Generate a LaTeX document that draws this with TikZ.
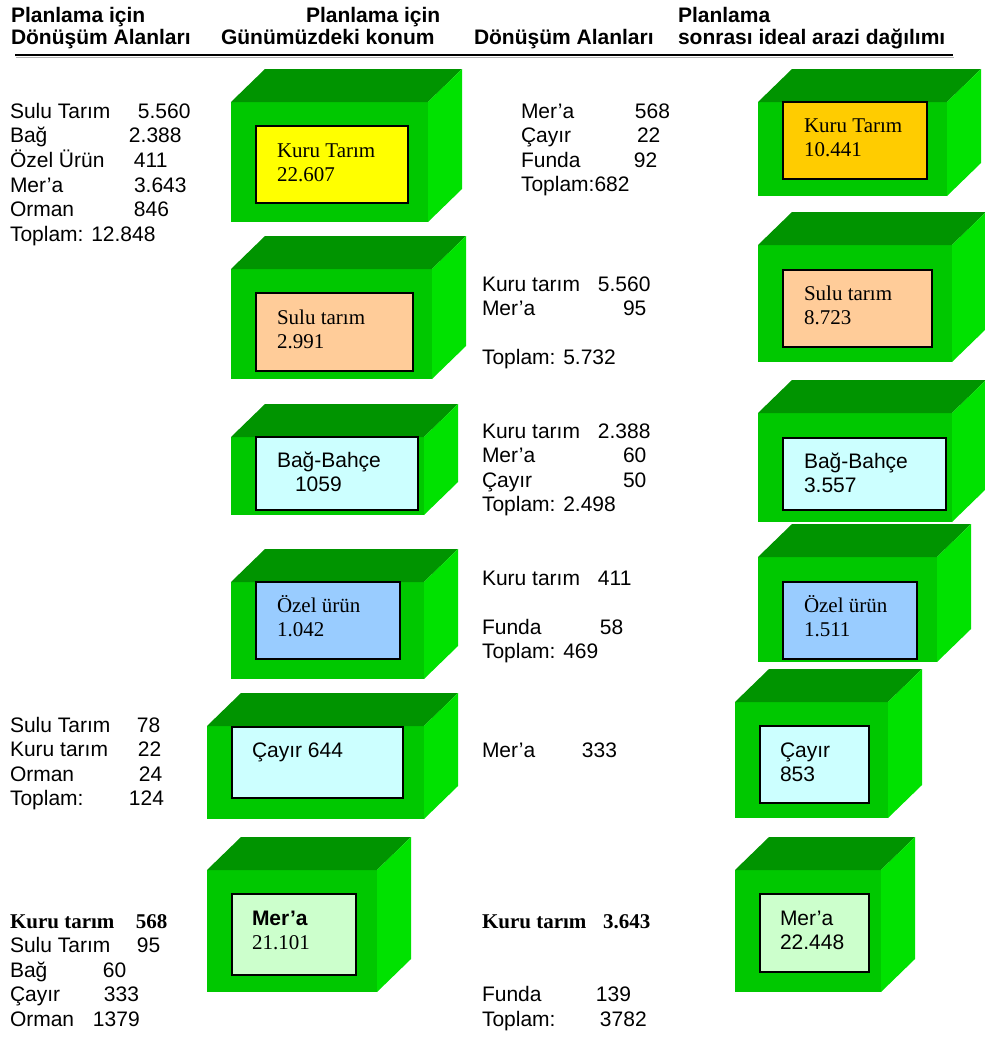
\documentclass[tikz,border=0pt]{standalone}
\usepackage{fontspec}
\setmainfont{Liberation Sans}
\newfontfamily\timesfont{Liberation Serif}
\usepackage{xcolor}
\usepackage{tikz}

\definecolor{cubefront}{RGB}{0,200,0}
\definecolor{cubetopc}{RGB}{0,148,0}
\definecolor{cubesidec}{RGB}{0,226,0}
\definecolor{kurufill}{RGB}{255,255,0}
\definecolor{kuruideal}{RGB}{255,204,0}
\definecolor{sulufill}{RGB}{255,204,153}
\definecolor{bagfill}{RGB}{204,255,255}
\definecolor{ozelfill}{RGB}{153,204,255}
\definecolor{merafill}{RGB}{204,255,204}

\newcommand{\liste}[1]{\begin{tabular}[t]{@{}l@{}}#1\end{tabular}}
\newcommand{\pair}[3]{\makebox[#1pt][l]{#2}#3}
% front face as node, top and side faces filled behind it
\newcommand{\landbox}[5]{%
  \node[cube, minimum width=#4pt, minimum height=#5pt] (#1) at (#2,#3) {};
  \fill[cubetop] (#1.north west) -- ++(34,-33) -- ([shift={(34,-33)}]#1.north east) -- (#1.north east) -- cycle;
  \fill[cubeside] (#1.north east) -- ++(34,-33) -- ([shift={(34,-33)}]#1.south east) -- (#1.south east) -- cycle;}

\begin{document}
\begin{tikzpicture}[
    x=1pt, y=-1pt,
    every node/.style={inner sep=0pt, outer sep=0pt,
        font=\fontsize{21}{24.6}\selectfont},
    cube/.style={fill=cubefront, anchor=north west},
    cubetop/.style={fill=cubetopc},
    cubeside/.style={fill=cubesidec},
    panel/.style={draw=black, line width=1.6pt, anchor=north west},
    txt/.style={anchor=base west},
    serif/.style={anchor=base west, font=\fontsize{21}{24.6}\selectfont\timesfont},
    head/.style={anchor=base west, font=\fontsize{21}{22}\selectfont\bfseries}
]
\useasboundingbox (0,0) rectangle (985,1037);

% headings
\node[head] (head1) at (11,22) {\liste{Planlama için\\Dönüşüm Alanları}};
\node[head] (head2) at (221,22) {\liste{\hspace*{85pt}Planlama için\\Günümüzdeki konum}};
\node[head] (head3) at (474,44) {Dönüşüm Alanları};
\node[head] (head4) at (678,22) {\liste{Planlama\\sonrası ideal arazi dağılımı}};
\draw[gray!60, line width=1pt] (16,57.5) -- (954,57.5);
\draw[line width=1.6pt] (15,55) -- (953,55);

% current land use
\landbox{kuru}{231}{102}{197}{120}
\node[panel, fill=kurufill, minimum width=152pt, minimum height=77pt] (kurup) at (256,126) {};
\node[serif] (kurut) at ([shift={(21,31)}]kurup.north west) {\liste{Kuru Tarım\\22.607}};

\landbox{sulu}{231}{269}{201}{110}
\node[panel, fill=sulufill, minimum width=157pt, minimum height=78pt] (sulup) at (256,293) {};
\node[serif] (sulut) at ([shift={(21,31)}]sulup.north west) {\liste{Sulu tarım\\2.991}};

\landbox{bag}{231}{437}{193}{78}
\node[panel, fill=bagfill, minimum width=162pt, minimum height=73pt] (bagp) at (256,437) {};
\node[txt] (bagt) at ([shift={(21,30)}]bagp.north west) {\liste{Bağ-Bahçe\\\hspace*{18pt}1059}};

\landbox{ozel}{231}{582}{193}{97}
\node[panel, fill=ozelfill, minimum width=144pt, minimum height=77pt] (ozelp) at (256,582) {};
\node[serif] (ozelt) at ([shift={(21,30)}]ozelp.north west) {\liste{Özel ürün\\1.042}};

\landbox{cayir}{207}{726}{217}{93}
\node[panel, fill=bagfill, minimum width=171pt, minimum height=71pt] (cayirp) at (232,727) {};
\node[txt] (cayirt) at ([shift={(20,30)}]cayirp.north west) {Çayır 644};

\landbox{mera}{207}{870}{170}{122}
\node[panel, fill=merafill, minimum width=124pt, minimum height=81pt] (merap) at (232,894) {};
\node[txt] (merat) at ([shift={(20,31)}]merap.north west) {\liste{\textbf{Mer’a}\\{\timesfont 21.101}}};

% ideal distribution
\landbox{ikuru}{758}{102}{189}{94}
\node[panel, fill=kuruideal, minimum width=144pt, minimum height=77pt] (ikurup) at (783,102) {};
\node[serif] (ikurut) at ([shift={(21,30)}]ikurup.north west) {\liste{Kuru Tarım\\10.441}};

\landbox{isulu}{758}{245}{194}{117}
\node[panel, fill=sulufill, minimum width=149pt, minimum height=77pt] (isulup) at (783,270) {};
\node[serif] (isulut) at ([shift={(21,30)}]isulup.north west) {\liste{Sulu tarım\\8.723}};

\landbox{ibag}{758}{413}{194}{109}
\node[panel, fill=bagfill, minimum width=163pt, minimum height=72pt] (ibagp) at (783,438) {};
\node[txt] (ibagt) at ([shift={(21,30)}]ibagp.north west) {\liste{Bağ-Bahçe\\3.557}};

\landbox{iozel}{758}{557}{179}{105}
\node[panel, fill=ozelfill, minimum width=134pt, minimum height=77pt] (iozelp) at (783,582) {};
\node[serif] (iozelt) at ([shift={(21,30)}]iozelp.north west) {\liste{Özel ürün\\1.511}};

\landbox{icayir}{735}{702}{153}{116}
\node[panel, fill=bagfill, minimum width=109pt, minimum height=77pt] (icayirp) at (760,726) {};
\node[txt] (icayirt) at ([shift={(20,31)}]icayirp.north west) {\liste{Çayır\\853}};

\landbox{imera}{735}{870}{146}{122}
\node[panel, fill=merafill, minimum width=109pt, minimum height=78pt] (imerap) at (760,894) {};
\node[txt] (imerat) at ([shift={(20,31)}]imerap.north west) {\liste{Mer’a\\22.448}};

% areas converted before planning
\node[txt] (solkuru) at (10,118) {\liste{\pair{128}{Sulu Tarım}{5.560}\\
  \pair{119}{Bağ}{2.388}\\ \pair{124}{Özel Ürün}{411}\\ \pair{124}{Mer’a}{3.643}\\
  \pair{124}{Orman}{846}\\ Toplam: 12.848}};
\node[txt] (solcayir) at (10,732) {\liste{\pair{127}{Sulu Tarım}{78}\\
  \pair{128}{Kuru tarım}{22}\\ \pair{129}{Orman}{24}\\ \pair{119}{Toplam:}{124}}};
\node[txt] (solmera) at (10,928) {\liste{{\timesfont\bfseries\pair{126}{Kuru tarım}{568}}\\
  \pair{127}{Sulu Tarım}{95}\\ \pair{93}{Bağ}{60}\\ \pair{94}{Çayır}{333}\\ \pair{83}{Orman}{1379}}};

% areas converted after planning
\node[txt] (sagkuru) at (521,118) {\liste{\pair{114}{Mer’a}{568}\\
  \pair{116}{Çayır}{22}\\ \pair{113}{Funda}{92}\\ Toplam:682}};
\node[txt] (sagsulu) at (482,291) {\liste{\pair{116}{Kuru tarım}{5.560}\\
  \pair{141}{Mer’a}{95}\\ ~\\ Toplam: 5.732}};
\node[txt] (sagbag) at (482,438) {\liste{\pair{116}{Kuru tarım}{2.388}\\
  \pair{141}{Mer’a}{60}\\ \pair{141}{Çayır}{50}\\ Toplam: 2.498}};
\node[txt] (sagozel) at (482,585) {\liste{\pair{116}{Kuru tarım}{411}\\
  ~\\ \pair{118}{Funda}{58}\\ Toplam: 469}};
\node[txt] (sagcayir) at (482,757) {\pair{100}{Mer’a}{333}};
\node[txt] (sagmera) at (482,928) {\liste{{\timesfont\bfseries\pair{121}{Kuru tarım}{3.643}}\\
  ~\\ ~\\ \pair{114}{Funda}{139}\\ \pair{118}{Toplam:}{3782}}};
\end{tikzpicture}
\end{document}
